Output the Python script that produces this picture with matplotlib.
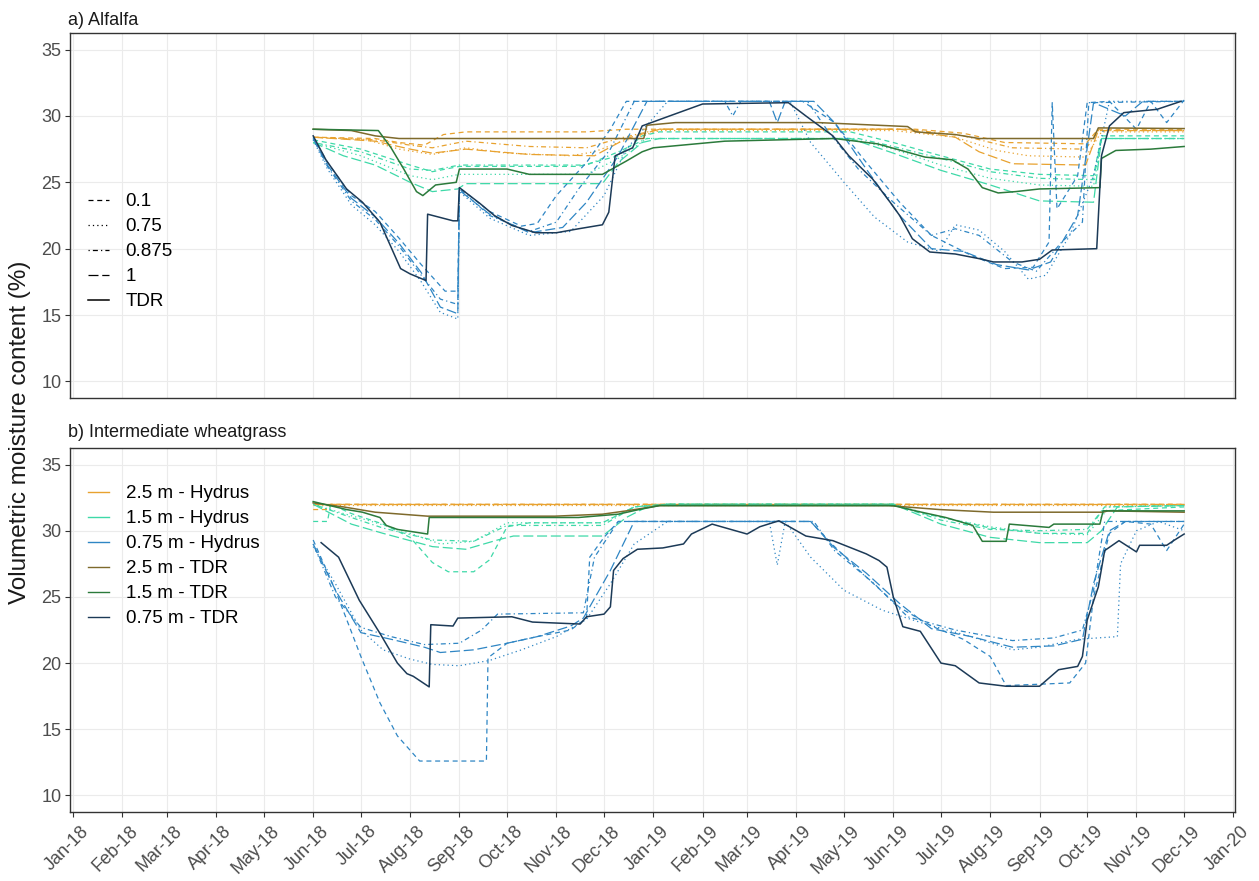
import matplotlib
matplotlib.use("Agg")
import matplotlib.pyplot as plt
from matplotlib.lines import Line2D
from matplotlib.transforms import ScaledTranslation
import pandas as pd

plt.rcParams["font.family"] = ["Liberation Sans", "DejaVu Sans"]

# ---------------- data ----------------
months = pd.date_range("2018-01-01", "2020-01-01", freq="MS")
month_labels = [m.strftime("%b-%y") for m in months]

hydrus_levels = ["0.1", "0.75", "0.875", "1"]
depth_labels = ["2.5 m - Hydrus", "1.5 m - Hydrus", "0.75 m - Hydrus",
                "2.5 m - TDR", "1.5 m - TDR", "0.75 m - TDR"]

# a) Alfalfa - 2.5 m Hydrus
a_25_hyd_01 = [("2018-06-01", 28.4), ("2018-07-10", 28.3), ("2018-07-25", 28.0), ("2018-08-10", 27.8),
               ("2018-08-22", 28.6), ("2018-09-05", 28.8), ("2018-11-20", 28.8), ("2018-12-15", 29.0),
               ("2019-06-15", 29.0), ("2019-07-15", 28.7), ("2019-08-10", 28.0), ("2019-09-30", 27.9),
               ("2019-10-08", 29.0), ("2019-12-01", 29.0)]
a_25_hyd_075 = [("2018-06-01", 28.4), ("2018-07-05", 28.2), ("2018-07-25", 27.5), ("2018-08-15", 27.1),
                ("2018-09-05", 27.6), ("2018-10-01", 27.2), ("2018-11-10", 27.0), ("2018-11-25", 27.3),
                ("2018-12-10", 28.0), ("2019-01-05", 28.9), ("2019-06-01", 28.9), ("2019-07-10", 28.4),
                ("2019-08-05", 27.4), ("2019-08-25", 27.0), ("2019-09-30", 26.9), ("2019-10-10", 28.8),
                ("2019-12-01", 28.8)]
a_25_hyd_0875 = [("2018-06-01", 28.4), ("2018-07-10", 28.2), ("2018-08-01", 27.8), ("2018-08-15", 27.6),
                 ("2018-09-05", 28.1), ("2018-10-15", 27.7), ("2018-11-20", 27.6), ("2018-12-10", 28.3),
                 ("2019-01-05", 29.0), ("2019-06-10", 29.0), ("2019-07-15", 28.5), ("2019-08-15", 27.6),
                 ("2019-09-30", 27.5), ("2019-10-08", 28.9), ("2019-12-01", 28.9)]
a_25_hyd_1 = [("2018-06-01", 28.4), ("2018-07-10", 28.1), ("2018-08-01", 27.5), ("2018-08-15", 27.2),
              ("2018-09-05", 27.5), ("2018-10-15", 27.1), ("2018-11-25", 27.0), ("2018-12-15", 28.3),
              ("2019-01-05", 29.0), ("2019-06-05", 29.0), ("2019-07-10", 28.4), ("2019-07-25", 27.3),
              ("2019-08-15", 26.4), ("2019-09-30", 26.3), ("2019-10-08", 28.9), ("2019-12-01", 28.9)]

# a) Alfalfa - 1.5 m Hydrus
a_15_hyd_01 = [("2018-06-01", 28.2), ("2018-07-01", 27.5), ("2018-08-01", 26.3), ("2018-08-15", 25.8),
               ("2018-09-01", 26.2), ("2018-11-15", 26.2), ("2018-12-10", 27.0), ("2018-12-25", 28.5),
               ("2019-01-05", 28.8), ("2019-05-05", 28.8), ("2019-06-01", 28.0), ("2019-07-01", 27.0),
               ("2019-08-01", 26.0), ("2019-09-01", 25.6), ("2019-10-05", 25.5), ("2019-10-10", 28.5),
               ("2019-12-01", 28.5)]
a_15_hyd_075 = [("2018-06-01", 28.0), ("2018-07-01", 27.0), ("2018-08-01", 25.5), ("2018-08-15", 25.2),
                ("2018-09-01", 25.6), ("2018-11-20", 25.6), ("2018-12-10", 26.8), ("2018-12-28", 28.3),
                ("2019-05-05", 28.3), ("2019-06-01", 27.5), ("2019-07-01", 26.3), ("2019-08-01", 25.3),
                ("2019-09-01", 24.8), ("2019-10-05", 24.7), ("2019-10-10", 28.3), ("2019-12-01", 28.3)]
a_15_hyd_0875 = [("2018-06-01", 28.0), ("2018-07-01", 27.3), ("2018-08-01", 26.0), ("2018-08-15", 25.9),
                 ("2018-09-01", 26.3), ("2018-11-20", 26.3), ("2018-12-10", 27.3), ("2018-12-28", 28.3),
                 ("2019-05-10", 28.3), ("2019-06-01", 27.7), ("2019-07-01", 26.8), ("2019-08-01", 25.8),
                 ("2019-09-01", 25.3), ("2019-10-05", 25.2), ("2019-10-10", 28.3), ("2019-12-01", 28.3)]
a_15_hyd_1 = [("2018-06-01", 28.0), ("2018-06-20", 27.0), ("2018-07-10", 26.3), ("2018-08-01", 25.0),
              ("2018-08-15", 24.3), ("2018-08-31", 24.5), ("2018-09-05", 24.9), ("2018-11-30", 24.9),
              ("2018-12-10", 26.5), ("2018-12-25", 28.0), ("2019-01-05", 28.3), ("2019-05-05", 28.3),
              ("2019-06-01", 27.2), ("2019-07-01", 25.9), ("2019-08-01", 24.8), ("2019-09-01", 23.6),
              ("2019-10-05", 23.5), ("2019-10-10", 28.3), ("2019-12-01", 28.3)]

# a) Alfalfa - 0.75 m Hydrus
a_075_hyd_01 = [("2018-06-01", 28.4), ("2018-06-10", 26.5), ("2018-06-25", 24.0), ("2018-07-10", 22.8),
                ("2018-07-25", 20.8), ("2018-08-08", 18.8), ("2018-08-20", 17.2), ("2018-08-23", 16.8),
                ("2018-08-31", 16.8), ("2018-09-01", 24.6), ("2018-09-20", 22.8), ("2018-10-10", 21.7),
                ("2018-10-20", 21.9), ("2018-11-01", 24.0), ("2018-11-20", 26.5), ("2018-12-05", 29.0),
                ("2018-12-15", 31.1), ("2019-04-05", 31.1), ("2019-04-25", 29.5), ("2019-05-15", 26.5),
                ("2019-06-05", 23.5), ("2019-06-25", 21.0), ("2019-07-20", 19.5), ("2019-08-10", 18.5),
                ("2019-08-28", 18.6), ("2019-09-07", 20.5), ("2019-09-09", 31.0), ("2019-09-12", 23.0),
                ("2019-09-25", 25.5), ("2019-10-01", 31.0), ("2019-10-15", 31.1), ("2019-11-01", 29.0),
                ("2019-11-10", 31.1), ("2019-11-20", 29.5), ("2019-12-01", 31.2)]
a_075_hyd_075 = [("2018-06-01", 28.2), ("2018-06-10", 26.0), ("2018-06-25", 23.3), ("2018-07-10", 21.8),
                 ("2018-07-25", 19.8), ("2018-08-08", 17.5), ("2018-08-20", 15.2), ("2018-08-31", 14.7),
                 ("2018-09-01", 24.3), ("2018-09-20", 22.3), ("2018-10-15", 21.0), ("2018-11-10", 21.3),
                 ("2018-12-01", 24.0), ("2018-12-15", 27.5), ("2019-01-10", 31.1), ("2019-03-28", 31.1),
                 ("2019-04-10", 28.0), ("2019-05-01", 25.0), ("2019-05-20", 22.4), ("2019-06-10", 20.5),
                 ("2019-06-30", 19.8), ("2019-07-10", 21.8), ("2019-07-25", 21.4), ("2019-08-10", 19.8),
                 ("2019-08-25", 17.7), ("2019-09-05", 18.0), ("2019-09-20", 21.0), ("2019-10-05", 25.5),
                 ("2019-10-15", 31.1), ("2019-12-01", 31.1)]
a_075_hyd_0875 = [("2018-06-01", 28.3), ("2018-06-10", 26.2), ("2018-06-25", 23.6), ("2018-07-10", 22.2),
                  ("2018-07-25", 20.2), ("2018-08-08", 18.0), ("2018-08-20", 16.2), ("2018-08-31", 15.8),
                  ("2018-09-01", 24.5), ("2018-09-20", 22.5), ("2018-10-15", 21.3), ("2018-11-01", 22.0),
                  ("2018-11-15", 24.5), ("2018-12-05", 27.5), ("2018-12-20", 31.1), ("2019-02-15", 31.1),
                  ("2019-02-20", 30.0), ("2019-02-25", 31.1), ("2019-04-08", 31.1), ("2019-04-20", 29.0),
                  ("2019-05-10", 26.0), ("2019-06-01", 23.5), ("2019-06-25", 21.0), ("2019-07-10", 21.5),
                  ("2019-07-25", 21.0), ("2019-08-15", 19.0), ("2019-08-30", 18.3), ("2019-09-15", 20.5),
                  ("2019-09-28", 22.0), ("2019-10-02", 31.0), ("2019-12-01", 31.1)]
a_075_hyd_1 = [("2018-06-01", 28.3), ("2018-06-10", 26.3), ("2018-06-25", 23.8), ("2018-07-10", 22.4),
               ("2018-07-25", 20.4), ("2018-08-08", 18.2), ("2018-08-20", 15.6), ("2018-08-31", 15.1),
               ("2018-09-01", 24.4), ("2018-09-20", 22.6), ("2018-10-15", 21.2), ("2018-11-05", 21.6),
               ("2018-11-20", 23.5), ("2018-12-10", 27.0), ("2018-12-28", 31.1), ("2019-03-15", 31.1),
               ("2019-03-20", 29.5), ("2019-03-25", 31.1), ("2019-04-12", 31.1), ("2019-04-25", 29.5),
               ("2019-05-15", 26.0), ("2019-06-05", 22.5), ("2019-06-25", 20.0), ("2019-07-15", 19.8),
               ("2019-08-05", 18.8), ("2019-08-25", 18.4), ("2019-09-08", 19.0), ("2019-09-25", 22.5),
               ("2019-10-05", 31.0), ("2019-10-25", 30.0), ("2019-11-05", 31.1), ("2019-12-01", 31.1)]

# a) Alfalfa - TDR
a_25_tdr = [("2018-06-01", 29.0), ("2018-06-25", 28.9), ("2018-07-10", 28.5), ("2018-07-25", 28.3),
            ("2018-12-26", 28.3), ("2018-12-28", 29.3), ("2019-01-15", 29.5), ("2019-04-15", 29.5),
            ("2019-06-10", 29.2), ("2019-06-15", 28.8), ("2019-07-10", 28.6), ("2019-07-25", 28.3),
            ("2019-10-05", 28.3), ("2019-10-08", 29.1), ("2019-12-01", 29.05)]
a_15_tdr = [("2018-06-01", 29.0), ("2018-07-12", 28.9), ("2018-07-20", 27.6), ("2018-07-28", 26.0),
            ("2018-08-05", 24.3), ("2018-08-09", 24.0), ("2018-08-17", 24.8), ("2018-08-30", 25.0),
            ("2018-09-01", 26.0), ("2018-10-01", 26.0), ("2018-10-15", 25.6), ("2018-11-30", 25.6),
            ("2018-12-15", 26.6), ("2018-12-25", 27.3), ("2019-01-01", 27.6), ("2019-02-15", 28.1),
            ("2019-04-25", 28.3), ("2019-05-22", 27.9), ("2019-06-21", 26.9), ("2019-07-08", 26.7),
            ("2019-07-18", 26.0), ("2019-07-27", 24.6), ("2019-08-06", 24.2), ("2019-08-17", 24.3),
            ("2019-09-01", 24.5), ("2019-10-09", 24.6), ("2019-10-10", 26.8), ("2019-10-19", 27.4),
            ("2019-11-10", 27.5), ("2019-12-01", 27.7)]
a_075_tdr = [("2018-06-01", 28.5), ("2018-06-09", 26.7), ("2018-06-22", 24.5), ("2018-07-02", 23.5),
             ("2018-07-13", 22.0), ("2018-07-26", 18.5), ("2018-08-01", 18.1), ("2018-08-11", 17.6),
             ("2018-08-12", 22.6), ("2018-08-28", 22.1), ("2018-08-31", 22.1), ("2018-09-01", 24.6),
             ("2018-09-14", 23.4), ("2018-09-23", 22.5), ("2018-10-04", 21.75), ("2018-10-19", 21.2),
             ("2018-11-01", 21.2), ("2018-11-15", 21.5), ("2018-11-30", 21.8), ("2018-12-04", 22.75),
             ("2018-12-08", 27.0), ("2018-12-19", 27.6), ("2018-12-25", 29.25), ("2019-01-17", 30.25),
             ("2019-02-01", 30.9), ("2019-03-27", 31.0), ("2019-04-07", 30.0), ("2019-04-24", 28.5),
             ("2019-05-04", 27.0), ("2019-05-19", 25.25), ("2019-05-30", 23.5), ("2019-06-05", 22.5),
             ("2019-06-13", 20.75), ("2019-06-24", 19.75), ("2019-07-10", 19.6), ("2019-07-25", 19.25),
             ("2019-08-03", 19.0), ("2019-08-21", 19.0), ("2019-09-01", 19.2), ("2019-09-09", 19.9),
             ("2019-10-07", 20.0), ("2019-10-10", 27.0), ("2019-10-15", 29.25), ("2019-10-24", 30.25),
             ("2019-11-14", 30.5), ("2019-11-29", 31.1)]

# b) Intermediate wheatgrass - 2.5 m Hydrus
b_25_hyd_01 = [("2018-06-01", 31.6), ("2018-06-10", 31.6), ("2018-06-12", 32.0), ("2019-12-01", 32.0)]
b_25_hyd_075 = [("2018-06-01", 31.95), ("2019-12-01", 31.95)]
b_25_hyd_0875 = [("2018-06-01", 32.0), ("2019-12-01", 32.0)]
b_25_hyd_1 = [("2018-06-01", 32.05), ("2019-12-01", 32.05)]

# b) Intermediate wheatgrass - 1.5 m Hydrus
b_15_hyd_01 = [("2018-06-01", 30.7), ("2018-06-10", 30.7), ("2018-06-12", 32.0), ("2018-06-25", 31.3),
               ("2018-07-15", 30.5), ("2018-08-01", 29.5), ("2018-08-15", 27.6), ("2018-08-25", 26.9),
               ("2018-09-10", 26.9), ("2018-09-20", 27.8), ("2018-10-01", 30.3), ("2018-10-15", 30.6),
               ("2018-11-30", 30.6), ("2018-12-20", 31.8), ("2019-01-10", 32.0), ("2019-06-01", 32.0),
               ("2019-06-20", 31.3), ("2019-07-10", 30.8), ("2019-08-01", 30.2), ("2019-09-01", 29.8),
               ("2019-10-01", 29.8), ("2019-10-10", 31.5), ("2019-12-01", 31.8)]
b_15_hyd_075 = [("2018-06-01", 32.0), ("2018-06-20", 31.3), ("2018-07-05", 30.8), ("2018-08-01", 29.8),
                ("2018-08-20", 29.0), ("2018-09-10", 29.2), ("2018-10-01", 30.6), ("2018-11-30", 30.6),
                ("2018-12-20", 31.8), ("2019-01-10", 32.0), ("2019-06-01", 32.0), ("2019-07-01", 31.0),
                ("2019-08-01", 30.3), ("2019-09-01", 29.8), ("2019-10-01", 29.7), ("2019-10-15", 31.8),
                ("2019-12-01", 31.9)]
b_15_hyd_0875 = [("2018-06-01", 32.0), ("2018-06-25", 31.0), ("2018-07-15", 30.2), ("2018-08-15", 29.3),
                 ("2018-09-10", 29.2), ("2018-10-01", 30.4), ("2018-11-30", 30.4), ("2018-12-20", 31.8),
                 ("2019-01-10", 32.0), ("2019-06-01", 32.0), ("2019-07-01", 30.8), ("2019-08-01", 30.1),
                 ("2019-09-01", 30.0), ("2019-10-01", 30.1), ("2019-10-12", 31.8), ("2019-12-01", 31.9)]
b_15_hyd_1 = [("2018-06-01", 32.0), ("2018-06-25", 30.5), ("2018-07-15", 29.8), ("2018-08-15", 28.8),
              ("2018-09-05", 28.6), ("2018-09-25", 29.3), ("2018-10-05", 29.6), ("2018-11-30", 29.6),
              ("2018-12-15", 31.0), ("2018-12-28", 31.8), ("2019-01-10", 32.0), ("2019-06-01", 32.0),
              ("2019-07-01", 30.5), ("2019-08-01", 29.5), ("2019-09-01", 29.1), ("2019-10-01", 29.1),
              ("2019-10-10", 30.0), ("2019-10-20", 31.8), ("2019-12-01", 31.9)]

# b) Intermediate wheatgrass - 0.75 m Hydrus
b_075_hyd_01 = [("2018-06-01", 29.3), ("2018-06-15", 25.5), ("2018-07-01", 20.5), ("2018-07-13", 17.0),
                ("2018-07-24", 14.5), ("2018-08-07", 12.6), ("2018-09-18", 12.6), ("2018-09-19", 20.4),
                ("2018-10-01", 21.5), ("2018-10-20", 22.0), ("2018-11-10", 22.5), ("2018-11-20", 23.4),
                ("2018-11-22", 28.0), ("2018-12-01", 29.5), ("2018-12-10", 30.7), ("2019-04-10", 30.7),
                ("2019-04-25", 28.8), ("2019-05-15", 26.5), ("2019-06-05", 24.2), ("2019-06-25", 22.8),
                ("2019-07-15", 21.8), ("2019-08-01", 20.5), ("2019-08-11", 18.3), ("2019-09-20", 18.5),
                ("2019-09-30", 20.0), ("2019-10-05", 25.0), ("2019-10-15", 29.8), ("2019-10-25", 30.7),
                ("2019-11-10", 30.5), ("2019-11-20", 28.5), ("2019-12-01", 30.5)]
b_075_hyd_075 = [("2018-06-01", 28.8), ("2018-06-15", 26.0), ("2018-07-01", 22.5), ("2018-07-15", 21.0),
                 ("2018-08-01", 20.3), ("2018-08-15", 19.9), ("2018-09-01", 19.8), ("2018-09-20", 20.2),
                 ("2018-10-10", 21.0), ("2018-11-01", 22.0), ("2018-11-20", 23.3), ("2018-12-05", 26.0),
                 ("2018-12-20", 29.0), ("2019-01-10", 30.7), ("2019-03-15", 30.7), ("2019-03-20", 27.4),
                 ("2019-03-25", 30.7), ("2019-04-10", 28.0), ("2019-05-01", 25.5), ("2019-05-25", 24.0),
                 ("2019-06-20", 23.0), ("2019-07-20", 22.0), ("2019-08-15", 21.0), ("2019-09-01", 21.2),
                 ("2019-09-25", 21.8), ("2019-10-20", 22.0), ("2019-10-22", 27.5), ("2019-11-01", 30.0),
                 ("2019-11-15", 30.7), ("2019-12-01", 30.0)]
b_075_hyd_0875 = [("2018-06-01", 29.0), ("2018-06-15", 25.0), ("2018-07-01", 22.7), ("2018-07-20", 22.0),
                  ("2018-08-10", 21.4), ("2018-09-01", 21.5), ("2018-09-15", 22.5), ("2018-09-25", 23.7),
                  ("2018-11-18", 23.8), ("2018-11-25", 28.0), ("2018-12-10", 30.7), ("2019-04-12", 30.7),
                  ("2019-04-25", 28.5), ("2019-05-20", 26.0), ("2019-06-10", 23.5), ("2019-07-10", 22.5),
                  ("2019-08-15", 21.7), ("2019-09-10", 21.9), ("2019-09-28", 22.5), ("2019-10-05", 25.5),
                  ("2019-10-12", 30.7), ("2019-12-01", 30.7)]
b_075_hyd_1 = [("2018-06-01", 29.0), ("2018-06-15", 25.5), ("2018-07-01", 22.3), ("2018-07-20", 21.8),
               ("2018-08-10", 21.2), ("2018-08-20", 20.8), ("2018-09-10", 21.0), ("2018-10-01", 21.5),
               ("2018-10-20", 22.0), ("2018-11-10", 22.8), ("2018-11-18", 23.4), ("2018-12-05", 27.0),
               ("2018-12-20", 30.7), ("2019-04-10", 30.7), ("2019-04-25", 28.7), ("2019-05-15", 26.8),
               ("2019-06-05", 24.5), ("2019-06-25", 22.6), ("2019-07-20", 22.0), ("2019-08-15", 21.2),
               ("2019-09-10", 21.3), ("2019-09-28", 21.8), ("2019-10-05", 26.0), ("2019-10-15", 30.0),
               ("2019-10-25", 30.7), ("2019-12-01", 30.7)]

# b) Intermediate wheatgrass - TDR
b_25_tdr = [("2018-06-01", 32.1), ("2018-06-20", 31.8), ("2018-07-10", 31.4), ("2018-08-12", 31.1),
            ("2018-10-31", 31.1), ("2018-11-30", 31.25), ("2018-12-15", 31.5), ("2019-01-05", 31.9),
            ("2019-05-29", 31.9), ("2019-06-30", 31.6), ("2019-08-03", 31.4), ("2019-10-11", 31.4),
            ("2019-10-14", 31.5), ("2019-12-01", 31.4)]
b_15_tdr = [("2018-06-01", 32.2), ("2018-06-22", 31.6), ("2018-07-02", 31.4), ("2018-07-13", 31.0),
            ("2018-07-17", 30.4), ("2018-07-24", 30.1), ("2018-08-12", 29.75), ("2018-08-13", 31.0),
            ("2018-11-15", 31.0), ("2018-12-10", 31.25), ("2018-12-23", 31.6), ("2019-01-05", 31.9),
            ("2019-06-01", 31.9), ("2019-06-15", 31.5), ("2019-07-04", 31.0), ("2019-07-21", 30.4),
            ("2019-07-27", 29.2), ("2019-08-11", 29.2), ("2019-08-13", 30.5), ("2019-09-07", 30.25),
            ("2019-09-10", 30.5), ("2019-10-09", 30.5), ("2019-10-11", 31.5), ("2019-12-01", 31.5)]
b_075_tdr = [("2018-06-06", 29.1), ("2018-06-17", 28.0), ("2018-06-30", 24.75), ("2018-07-13", 22.25),
             ("2018-07-24", 20.0), ("2018-07-30", 19.2), ("2018-08-03", 19.0), ("2018-08-13", 18.2),
             ("2018-08-14", 22.9), ("2018-08-28", 22.8), ("2018-08-31", 23.4), ("2018-10-04", 23.5),
             ("2018-10-17", 23.1), ("2018-11-16", 22.95), ("2018-11-20", 23.5), ("2018-12-01", 23.7),
             ("2018-12-05", 24.25), ("2018-12-07", 27.0), ("2018-12-13", 27.9), ("2018-12-22", 28.6),
             ("2019-01-07", 28.7), ("2019-01-20", 29.0), ("2019-01-25", 29.75), ("2019-02-07", 30.5),
             ("2019-03-01", 29.75), ("2019-03-09", 30.3), ("2019-03-21", 30.75), ("2019-04-07", 29.6),
             ("2019-04-24", 29.25), ("2019-05-15", 28.25), ("2019-05-23", 27.75), ("2019-05-28", 27.25),
             ("2019-06-01", 25.0), ("2019-06-07", 22.75), ("2019-06-18", 22.4), ("2019-07-01", 20.0),
             ("2019-07-10", 19.8), ("2019-07-25", 18.5), ("2019-08-11", 18.25), ("2019-09-01", 18.25),
             ("2019-09-13", 19.5), ("2019-09-25", 19.75), ("2019-09-28", 20.5), ("2019-10-01", 23.25),
             ("2019-10-08", 25.75), ("2019-10-12", 28.5), ("2019-10-21", 29.25), ("2019-11-01", 28.4),
             ("2019-11-03", 28.9), ("2019-11-20", 28.9), ("2019-11-25", 29.3), ("2019-12-01", 29.75)]

# ---------------- styling ----------------
col_25_hyd, col_15_hyd, col_075_hyd = "#E8A22F", "#3ED9A8", "#2F86C4"
col_25_tdr, col_15_tdr, col_075_tdr = "#7E6A2C", "#2B7A3B", "#1C3A57"
linestyles = {"0.1": (0, (4, 3)), "0.75": (0, (1, 2.5)), "0.875": (0, (1, 2.5, 4, 2.5)),
              "1": (0, (8, 3)), "TDR": "-"}
W, H = 1259, 881


def xy(pts):
    return pd.to_datetime([p[0] for p in pts]), [p[1] for p in pts]


def draw_panel(ax, hydrus_groups, tdr_groups):
    for color, group in hydrus_groups:
        for level, pts in zip(hydrus_levels, group):
            d, v = xy(pts)
            ax.plot(d, v, color=color, lw=0.9, ls=linestyles[level])
    for color, pts in tdr_groups:
        d, v = xy(pts)
        ax.plot(d, v, color=color, lw=1.1, ls="-")
    ax.set_xlim(pd.Timestamp("2017-12-30"), pd.Timestamp("2020-01-02"))
    ax.set_ylim(8.75, 36.25)
    ax.set_yticks([10, 15, 20, 25, 30, 35])
    ax.set_xticks(months)
    ax.grid(True, color="#EBEBEB", lw=0.8)
    ax.set_axisbelow(True)
    for sp in ax.spines.values():
        sp.set_color("#333333")
        sp.set_linewidth(1.0)
    ax.tick_params(axis="both", length=3.6, width=0.8, color="#333333",
                   labelsize=13, labelcolor="#4D4D4D", pad=2.5)


fig = plt.figure(figsize=(W / 100, H / 100), dpi=100)
ax_a = fig.add_axes([70 / W, 1 - 398 / H, 1165 / W, 365 / H])
ax_b = fig.add_axes([70 / W, 1 - 812 / H, 1165 / W, 364 / H])

draw_panel(ax_a,
           [(col_25_hyd, [a_25_hyd_01, a_25_hyd_075, a_25_hyd_0875, a_25_hyd_1]),
            (col_15_hyd, [a_15_hyd_01, a_15_hyd_075, a_15_hyd_0875, a_15_hyd_1]),
            (col_075_hyd, [a_075_hyd_01, a_075_hyd_075, a_075_hyd_0875, a_075_hyd_1])],
           [(col_25_tdr, a_25_tdr), (col_15_tdr, a_15_tdr), (col_075_tdr, a_075_tdr)])
draw_panel(ax_b,
           [(col_25_hyd, [b_25_hyd_01, b_25_hyd_075, b_25_hyd_0875, b_25_hyd_1]),
            (col_15_hyd, [b_15_hyd_01, b_15_hyd_075, b_15_hyd_0875, b_15_hyd_1]),
            (col_075_hyd, [b_075_hyd_01, b_075_hyd_075, b_075_hyd_0875, b_075_hyd_1])],
           [(col_25_tdr, b_25_tdr), (col_15_tdr, b_15_tdr), (col_075_tdr, b_075_tdr)])

ax_a.tick_params(axis="x", length=0, labelbottom=False)
ax_b.set_xticklabels(month_labels, rotation=45, ha="right", va="top", rotation_mode="anchor")
ax_b.tick_params(axis="x", pad=4)
shift = ScaledTranslation(7 / 100, 0, fig.dpi_scale_trans)
for lab in ax_b.get_xticklabels():
    lab.set_transform(lab.get_transform() + shift)

# legends
lt_handles = [Line2D([], [], color="black", lw=0.9, ls=linestyles[k]) for k in hydrus_levels]
lt_handles.append(Line2D([], [], color="black", lw=1.1, ls="-"))
ax_a.legend(lt_handles, hydrus_levels + ["TDR"], loc="upper left",
            bbox_to_anchor=(88 / W, 1 - 193 / H), bbox_transform=fig.transFigure,
            frameon=False, fontsize=13.5, handlelength=1.1, handletextpad=0.9,
            labelspacing=0.42, borderpad=0, borderaxespad=0)

col_handles = [Line2D([], [], color=c, lw=1.0) for c in
               [col_25_hyd, col_15_hyd, col_075_hyd, col_25_tdr, col_15_tdr, col_075_tdr]]
ax_b.legend(col_handles, depth_labels, loc="upper left",
            bbox_to_anchor=(88 / W, 1 - 485 / H), bbox_transform=fig.transFigure,
            frameon=False, fontsize=13.5, handlelength=1.1, handletextpad=0.9,
            labelspacing=0.42, borderpad=0, borderaxespad=0)

fig.text(68 / W, 1 - 25 / H, "a) Alfalfa", fontsize=13, color="#1A1A1A", ha="left", va="baseline")
fig.text(68 / W, 1 - 437 / H, "b) Intermediate wheatgrass", fontsize=13, color="#1A1A1A",
         ha="left", va="baseline")
fig.text(20 / W, 1 - 432 / H, "Volumetric moisture content (%)", fontsize=17.5, color="#1A1A1A",
         rotation=90, ha="center", va="center")

fig.savefig("out.png", dpi=100, facecolor="white")
